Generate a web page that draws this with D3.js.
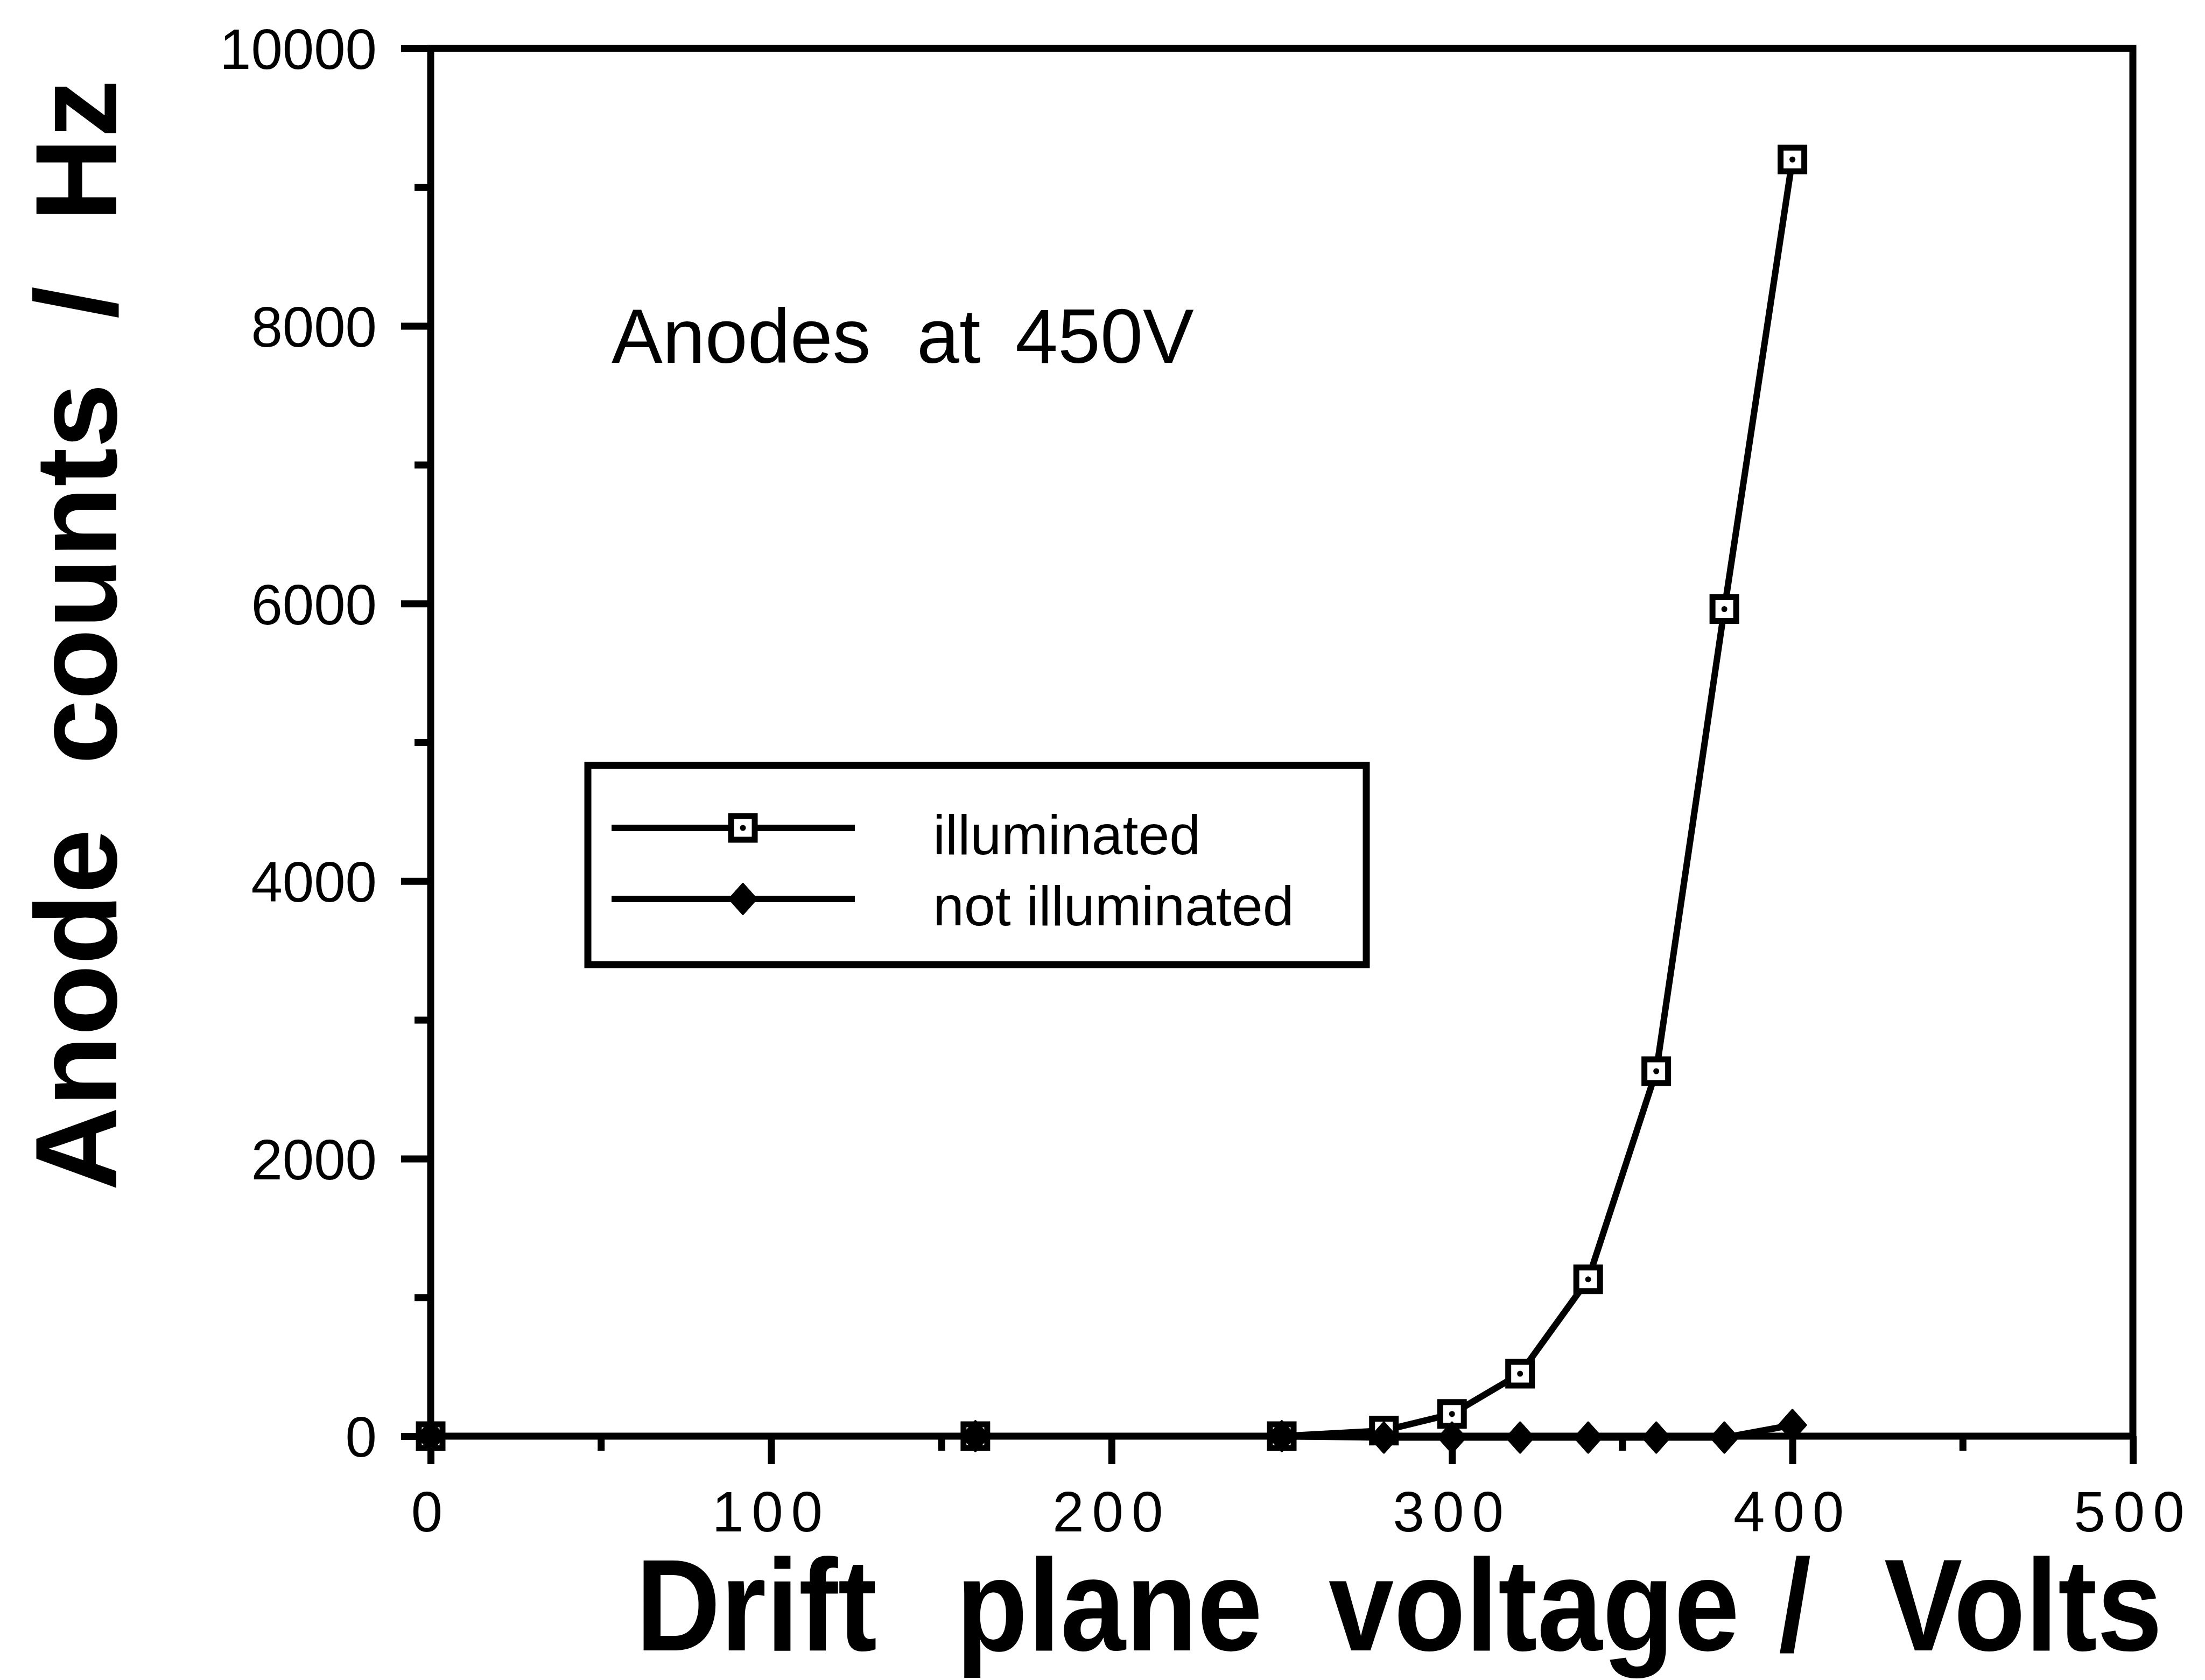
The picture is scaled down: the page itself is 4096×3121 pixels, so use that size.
<!DOCTYPE html>
<html>
<head>
<meta charset="utf-8">
<script src="https://cdn.jsdelivr.net/npm/d3@7"></script>
<style>
  html, body { margin: 0; padding: 0; background: #fff; }
  svg { display: block; }
  text { font-family: "Liberation Sans", Arial, Helvetica, sans-serif; fill: #000; }
</style>
</head>
<body>
<script>
// ---- data ----
const voltage = [0, 160, 250, 280, 300, 320, 340, 360, 380, 400];
const illuminated = [0, 0, 0, 40, 160, 450, 1130, 2630, 5960, 9200];
const notIlluminated = [0, 0, 0, -10, -10, -10, -10, -10, -10, 80];
const seriesNames = ["illuminated", "not illuminated"];
const yMajorTicks = [0, 2000, 4000, 6000, 8000, 10000];
const yMinorTicks = [1000, 3000, 5000, 7000, 9000];
const xMajorTicks = [0, 100, 200, 300, 400, 500];
const xMinorTicks = [50, 150, 250, 350, 450];
const xTitleWords = ["Drift", "plane", "voltage", "/", "Volts"];
const yTitle = "Anode  counts  /  Hz";
const noteWords = ["Anodes", "at", "450V"];

// ---- layout ----
const W = 4096, H = 3121;
const L = 800, R = 3962, T = 90, B = 2668;

const svg = d3.select("body").append("svg").attr("width", W).attr("height", H);
svg.append("rect").attr("width", W).attr("height", H).attr("fill", "#fff");

const x = d3.scaleLinear().domain([0, 500]).range([L, R]);
const y = d3.scaleLinear().domain([0, 10000]).range([B, T]);

// y axis major
const gy = svg.append("g").attr("transform", `translate(${L},0)`)
  .call(d3.axisLeft(y).tickValues(yMajorTicks).tickSize(55).tickPadding(45).tickFormat(d3.format("d")));
gy.select(".domain").remove();
gy.selectAll(".tick line").attr("stroke", "#000").attr("stroke-width", 13);
gy.selectAll(".tick text").attr("font-size", 105).attr("dy", "0.36em")
  .style("font-family", '"Liberation Sans", Arial, sans-serif');
// y axis minor
const gym = svg.append("g").attr("transform", `translate(${L},0)`)
  .call(d3.axisLeft(y).tickValues(yMinorTicks).tickSize(30).tickFormat(""));
gym.select(".domain").remove();
gym.selectAll(".tick line").attr("stroke", "#000").attr("stroke-width", 13);

// x axis major
const gx = svg.append("g").attr("transform", `translate(0,${B})`)
  .call(d3.axisBottom(x).tickValues(xMajorTicks).tickSize(52).tickPadding(50).tickFormat(d3.format("d")));
gx.select(".domain").remove();
gx.selectAll(".tick line").attr("stroke", "#000").attr("stroke-width", 13);
gx.selectAll(".tick text").attr("font-size", 105).attr("letter-spacing", 15)
  .style("font-family", '"Liberation Sans", Arial, sans-serif');
// x axis minor
const gxm = svg.append("g").attr("transform", `translate(0,${B})`)
  .call(d3.axisBottom(x).tickValues(xMinorTicks).tickSize(27).tickFormat(""));
gxm.select(".domain").remove();
gxm.selectAll(".tick line").attr("stroke", "#000").attr("stroke-width", 13);

// frame
svg.append("rect").attr("x", L).attr("y", T).attr("width", R - L).attr("height", B - T)
  .attr("fill", "none").attr("stroke", "#000").attr("stroke-width", 13);

// series
const ptsI = voltage.map((v, i) => [v, illuminated[i]]);
const ptsN = voltage.map((v, i) => [v, notIlluminated[i]]);
const line = d3.line().x(d => x(d[0])).y(d => y(d[1]));

svg.append("path").datum(ptsN).attr("d", line).attr("fill", "none")
  .attr("stroke", "#000").attr("stroke-width", 12).attr("stroke-linejoin", "round");
svg.append("path").datum(ptsI).attr("d", line).attr("fill", "none")
  .attr("stroke", "#000").attr("stroke-width", 12).attr("stroke-linejoin", "round");

const sq = 44, dotR = 5.5;
function squareMarker(g, cx, cy) {
  g.append("rect").attr("x", cx - sq / 2).attr("y", cy - sq / 2).attr("width", sq).attr("height", sq)
    .attr("fill", "#fff").attr("stroke", "#000").attr("stroke-width", 11);
  g.append("circle").attr("cx", cx).attr("cy", cy).attr("r", dotR).attr("fill", "#000");
}
const dw = 25, dh = 28;
function diamondMarker(g, cx, cy) {
  g.append("path")
    .attr("d", `M${cx},${cy - dh}L${cx + dw},${cy}L${cx},${cy + dh}L${cx - dw},${cy}Z`)
    .attr("fill", "#000").attr("stroke", "#000").attr("stroke-width", 4).attr("stroke-linejoin", "round");
}
const gm = svg.append("g");
ptsI.forEach(d => squareMarker(gm, x(d[0]), y(d[1])));
ptsN.forEach(d => diamondMarker(gm, x(d[0]), y(d[1])));

// annotation
const note = svg.append("text").attr("font-size", 142).attr("y", 674);
const noteX = [1136, 1703, 1886];
noteWords.forEach((w, i) => note.append("tspan").attr("x", noteX[i]).text(w));

// legend
const lg = svg.append("g");
lg.append("rect").attr("x", 1092).attr("y", 1422).attr("width", 2538 - 1092).attr("height", 1792 - 1422)
  .attr("fill", "#fff").attr("stroke", "#000").attr("stroke-width", 13);
const legY = [1538, 1670];
const legTextY = [1587, 1719];
seriesNames.forEach((name, i) => {
  lg.append("line").attr("x1", 1136).attr("x2", 1588).attr("y1", legY[i]).attr("y2", legY[i])
    .attr("stroke", "#000").attr("stroke-width", 12);
  if (i === 0) squareMarker(lg, 1380, legY[i]); else diamondMarker(lg, 1380, legY[i]);
  lg.append("text").attr("x", 1733).attr("y", legTextY[i]).attr("font-size", 104).text(name);
});

// axis titles
const xt = svg.append("text").attr("font-size", 218).attr("font-weight", "bold")
  .attr("transform", "translate(0,3066) scale(1,1.12)");
const xtX = [1181, 1776, 2468, 3304, 3500];
xTitleWords.forEach((w, i) => xt.append("tspan").attr("x", xtX[i]).attr("y", 0).text(w));

svg.append("text").attr("font-size", 216).attr("font-weight", "bold")
  .attr("transform", "translate(216,1180) rotate(-90)")
  .attr("text-anchor", "middle").style("white-space", "pre").text(yTitle);
</script>
</body>
</html>
